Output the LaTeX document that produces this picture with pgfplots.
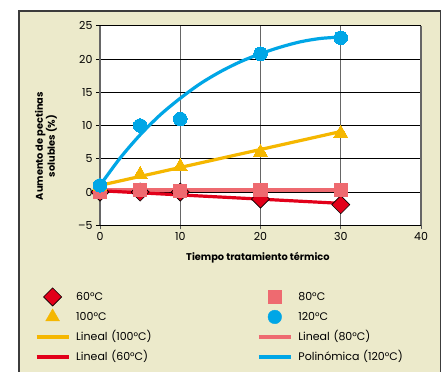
\documentclass[border=0pt]{standalone}
\usepackage{fontspec}
\setmainfont{Poppins}
\usepackage{pgfplots}
\pgfplotsset{compat=1.18}
\definecolor{beige}{RGB}{236,234,203}
\definecolor{cred}{RGB}{226,0,26}
\definecolor{cpink}{RGB}{238,106,112}
\definecolor{cyel}{RGB}{245,183,0}
\definecolor{cblue}{RGB}{0,166,230}
\definecolor{bordergray}{RGB}{60,60,60}
\pgfplotsset{
  markleg/.style={legend image code/.code={\path[draw=none,fill=none] (0pt,-6pt) rectangle (32pt,14pt); \draw[##1, only marks] plot coordinates {(16pt,4pt)};}},
  lineleg/.style={legend image code/.code={\path[draw=none,fill=none] (0pt,-6pt) rectangle (32pt,14pt); \draw[##1] (0pt,4pt) -- (32pt,4pt);}},
}
\begin{document}
\begin{tikzpicture}
\useasboundingbox (0pt,0pt) rectangle (445pt,372pt);
\fill[white] (0pt,0pt) rectangle (445pt,372pt);
\filldraw[fill=beige, draw=bordergray, line width=1.2pt] (19pt,-5pt) rectangle (440.5pt,361pt);
\begin{axis}[
  at={(100pt,146.7pt)}, anchor=south west,
  scale only axis, width=321pt, height=199.5pt,
  xmin=0, xmax=40, ymin=-5, ymax=25,
  xtick={0,10,20,30,40}, ytick={-5,0,5,10,15,20,25},
  yticklabels={–5,0,5,10,15,20,25},
  /pgf/number format/assume math mode=true,
  tick label style={font=\fontsize{11}{13}\selectfont},
  tick pos=left, tick align=outside, major tick length=4pt,
  xtick style={gray!70!black, line width=0.8pt},
  ytick style={black, line width=0.8pt},
  xmajorgrids, ymajorgrids,
  x grid style={gray!80!black, line width=1pt},
  y grid style={black, line width=0.8pt},
  separate axis lines,
  x axis line style={black, line width=1pt},
  y axis line style={gray!80!black, line width=1.2pt},
  axis background/.style={fill=white},
  clip=false,
  xlabel={Tiempo tratamiento térmico},
  xlabel style={font=\bfseries\fontsize{9.8}{12}\selectfont, at={(axis description cs:0.492,-0.164)}, anchor=center},
  ylabel={Aumento de pectinas\\solubles (\%)},
  ylabel style={font=\bfseries\fontsize{9.8}{12}\selectfont, align=center, at={(axis description cs:-0.168,0.397)}, anchor=center},
  legend columns=2,
  legend style={draw=none, fill=none, inner sep=0pt, outer sep=0pt,
    at={(axis description cs:-0.2025,-0.309)}, anchor=north west,
    font=\fontsize{11}{13}\selectfont,
    nodes={inner sep=0pt, text height=8pt, text depth=2pt, anchor=base west},
    row sep=0pt,
    /tikz/every odd column/.append style={column sep=6pt},
    /tikz/every even column/.append style={column sep=0pt, text width=181pt},
  },
]
% trendlines
\addplot[cpink, line width=3.2pt, forget plot] coordinates {(0,0.3) (30,0.3)};
\addplot[cred, line width=3.2pt, forget plot] coordinates {(0,0.2) (30,-1.7)};
\addplot[cyel, line width=3.2pt, forget plot] coordinates {(0,1.0) (30,9.1)};
\addplot[cblue, line width=3.2pt, smooth, forget plot] coordinates {
 (0,1.0) (2.5,5.1) (5,8.6) (7.5,11.6) (10,14.1) (12.5,16.3) (15,18.1)
 (17.5,19.6) (20,20.8) (22.5,21.8) (25,22.6) (27.5,23.1) (30,23.3)};
% markers
\addplot[only marks, mark=square*, mark size=6.4pt, mark options={rotate=45, fill=cred, draw=black, line width=0.6pt}, forget plot]
 coordinates {(0,0) (5,0) (10,0) (20,-1.05) (30,-1.9)};
\addplot[only marks, mark=square*, mark size=6.6pt, mark options={fill=cpink, draw=cpink, line width=0pt}, forget plot]
 coordinates {(0,0.05) (5,0.25) (10,0.1) (20,0.3) (30,0.25)};
\addplot[only marks, mark=triangle*, mark size=8pt, mark options={fill=cyel, draw=cyel, line width=0pt}, forget plot]
 coordinates {(0,0.9) (5,2.65) (10,3.85) (20,6.0) (30,8.85)};
\addplot[only marks, mark=*, mark size=6.8pt, mark options={fill=cblue, draw=cblue, line width=0pt}, forget plot]
 coordinates {(0,1.0) (5,10.0) (10,11.0) (20,20.8) (30,23.2)};
% legend
\addlegendimage{markleg, mark=square*, mark size=6.4pt, mark options={rotate=45, fill=cred, draw=black, line width=0.6pt}}
\addlegendentry{60°C}
\addlegendimage{markleg, mark=square*, mark size=6.4pt, mark options={fill=cpink, draw=cpink}}
\addlegendentry{80°C}
\addlegendimage{markleg, mark=triangle*, mark size=8pt, mark options={fill=cyel, draw=cyel}}
\addlegendentry{100°C}
\addlegendimage{markleg, mark=*, mark size=6.8pt, mark options={fill=cblue, draw=cblue}}
\addlegendentry{120°C}
\addlegendimage{lineleg, cyel, line width=3.2pt}
\addlegendentry{Lineal (100°C)}
\addlegendimage{lineleg, cpink, line width=3.2pt}
\addlegendentry{Lineal (80°C)}
\addlegendimage{lineleg, cred, line width=3.2pt}
\addlegendentry{Lineal (60°C)}
\addlegendimage{lineleg, cblue, line width=3.2pt}
\addlegendentry{Polinómica (120°C)}
\end{axis}
\end{tikzpicture}
\end{document}
